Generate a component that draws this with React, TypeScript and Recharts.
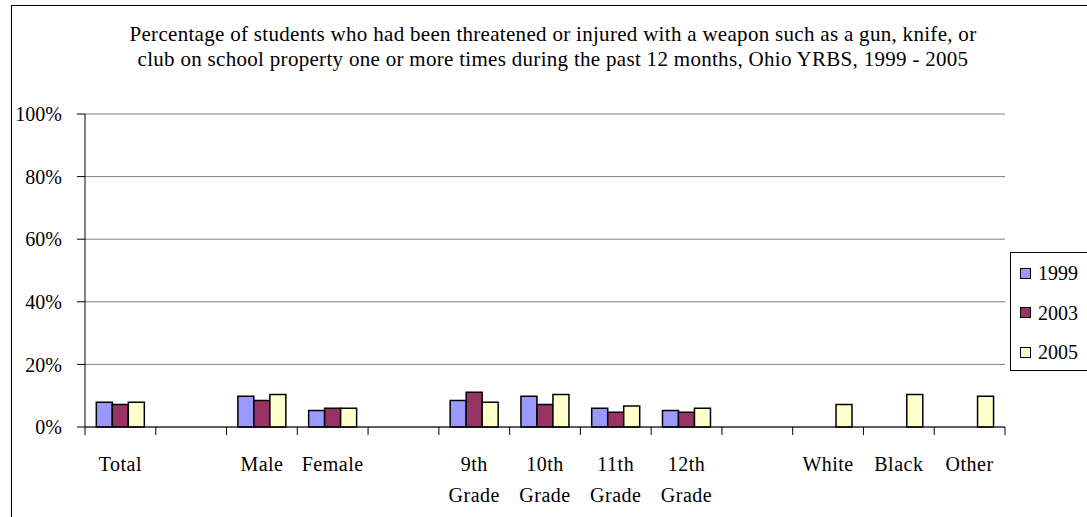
import React from 'react';
import { BarChart, Bar, XAxis, YAxis, CartesianGrid, Legend } from 'recharts';

// categories along the x axis (blank ones are the spacer slots)
const categories = ['Total', '', 'Male', 'Female', '', '9th Grade', '10th Grade', '11th Grade', '12th Grade', '', 'White', 'Black', 'Other'];
const years = ['1999', '2003', '2005'];
const values1999 = [7.9, null, 9.8, 5.3, null, 8.5, 9.8, 6.0, 5.3, null, null, null, null];
const values2003 = [7.2, null, 8.5, 6.0, null, 11.1, 7.2, 4.7, 4.7, null, null, null, null];
const values2005 = [7.9, null, 10.4, 6.0, null, 7.9, 10.4, 6.7, 6.0, null, 7.2, 10.4, 9.8];
const yTicks = [0, 20, 40, 60, 80, 100];
const titleLines = [
  'Percentage of students who had been threatened or injured with a weapon such as a gun, knife, or',
  'club on school property one or more times during the past 12 months, Ohio YRBS, 1999 - 2005',
];

const colors: Record<string, string> = { '1999': '#9999FF', '2003': '#993366', '2005': '#FFFFCC' };
const FONT = '"Liberation Serif", "Times New Roman", serif';

const W = 1087;
const H = 517;
const margin = { top: 114, right: 82, bottom: 0, left: 0 };
const Y_AXIS_W = 85;
const X_AXIS_H = 90;
const BAND = (W - margin.left - margin.right - Y_AXIS_W) / categories.length;

const data = categories.map((label, i) => ({
  label,
  '1999': values1999[i],
  '2003': values2003[i],
  '2005': values2005[i],
}));

const XTick = (props: any) => {
  const { x, y, payload } = props;
  const words = String(payload.value).split(' ').filter(Boolean);
  const left = x - BAND / 2;
  const right = x + BAND / 2;
  return (
    <g>
      <line x1={left} x2={left} y1={y} y2={y + 8} stroke="#000" />
      {payload.index === categories.length - 1 && <line x1={right} x2={right} y1={y} y2={y + 8} stroke="#000" />}
      {words.map((w, i) => (
        <text key={i} x={x} y={y + 44 + i * 31} textAnchor="middle" fontFamily={FONT} fontSize={20} letterSpacing={0.5} fill="#000">
          {w}
        </text>
      ))}
    </g>
  );
};

const LegendBox = () => (
  <div style={{ border: '1px solid #000', background: '#fff', width: 100, height: 117, position: 'relative', fontFamily: FONT, fontSize: 20 }}>
    {years.map((yr, i) => (
      <div key={yr} style={{ position: 'absolute', left: 9, top: 20 + i * 39.5 - 12, height: 24, display: 'flex', alignItems: 'center' }}>
        <span style={{ width: 9, height: 9, border: '1.5px solid #000', background: colors[yr], display: 'inline-block' }} />
        <span style={{ marginLeft: 7, lineHeight: '24px' }}>{yr}</span>
      </div>
    ))}
  </div>
);

export default function App() {
  return (
    <div style={{ position: 'relative', width: W, height: H, overflow: 'hidden', background: '#fff' }}>
      <style>{'body{margin:0}'}</style>
      <div style={{ position: 'absolute', left: 11, top: 5, width: 1200, height: 700, border: '1px solid #000' }} />
      <div style={{ position: 'absolute', left: 0, top: 22, width: 1106, textAlign: 'center', fontFamily: FONT, fontSize: 21, letterSpacing: 0.3, lineHeight: '25px', color: '#000' }}>
        {titleLines.map((t) => (
          <div key={t}>{t}</div>
        ))}
      </div>
      <div style={{ position: 'absolute', left: 0, top: 0 }}>
        <BarChart width={W} height={H} data={data} margin={margin} barGap={0} barCategoryGap="16%">
          <CartesianGrid vertical={false} stroke="#808080" />
          <XAxis
            dataKey="label"
            height={X_AXIS_H}
            interval={0}
            tickLine={false}
            tickSize={0}
            tickMargin={0}
            tick={<XTick />}
            axisLine={{ stroke: '#000' }}
          />
          <YAxis
            width={Y_AXIS_W}
            domain={[0, 100]}
            ticks={yTicks}
            tickFormatter={(v) => `${v}%`}
            tickSize={8}
            tickMargin={15}
            tickLine={{ stroke: '#000' }}
            axisLine={{ stroke: '#000' }}
            tick={{ fontFamily: FONT, fontSize: 20, fill: '#000' }}
          />
          <YAxis yAxisId="right" orientation="right" width={0} domain={[0, 100]} tick={false} tickLine={false} axisLine={{ stroke: '#808080' }} />
          <Legend layout="vertical" align="center" verticalAlign="middle" wrapperStyle={{ left: 1010, top: 252, width: 100 }} content={() => <LegendBox />} />
          {years.map((yr) => (
            <Bar key={yr} dataKey={yr} fill={colors[yr]} stroke="#000" strokeWidth={1.5} isAnimationActive={false} />
          ))}
        </BarChart>
      </div>
    </div>
  );
}
